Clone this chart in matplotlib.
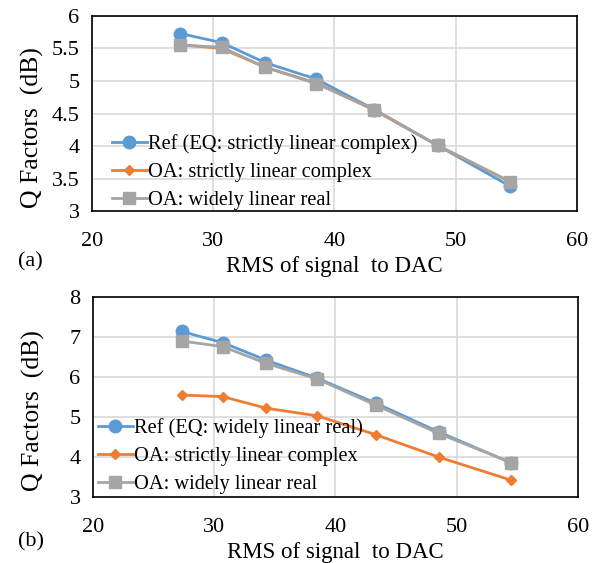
import numpy as np
import matplotlib.pyplot as plt

# data
rms = [27.3, 30.7, 34.3, 38.5, 43.3, 48.5, 54.5]

ref_a = [5.73, 5.59, 5.28, 5.03, 4.56, 4.01, 3.38]
oa_strict_a = [5.56, 5.50, 5.21, 4.97, 4.55, 4.01, 3.45]
oa_wide_a = [5.55, 5.52, 5.21, 4.96, 4.56, 4.01, 3.45]

ref_b = [7.14, 6.86, 6.42, 5.97, 5.35, 4.63, 3.85]
oa_strict_b = [5.55, 5.51, 5.22, 5.03, 4.56, 4.00, 3.42]
oa_wide_b = [6.90, 6.76, 6.34, 5.95, 5.30, 4.59, 3.86]

labels_a = ["Ref (EQ: strictly linear complex)", "OA: strictly linear complex", "OA: widely linear real"]
labels_b = ["Ref (EQ: widely linear real)", "OA: strictly linear complex", "OA: widely linear real"]

yticks_a = [3, 3.5, 4, 4.5, 5, 5.5, 6]
yticks_b = [3, 4, 5, 6, 7, 8]
xticks = [20, 30, 40, 50, 60]

blue, orange, gray = "#5B9BD5", "#ED7D31", "#A5A5A5"

plt.rcParams.update({
    "font.family": "Liberation Serif",
    "font.size": 16,
})

fig = plt.figure(figsize=(6.0, 5.63), dpi=100)
ax_a = fig.add_axes([0.1533, 0.6252, 0.8083, 0.3464])
ax_b = fig.add_axes([0.155, 0.1172, 0.8083, 0.3552])


def draw(ax, ref, strict, wide, labels, ylim, yticks, leg_anchor):
    ax.plot(rms, ref, color=blue, marker="o", markersize=9, lw=2, label=labels[0], zorder=3)
    ax.plot(rms, strict, color=orange, marker="D", markersize=5.5, lw=2, label=labels[1], zorder=4)
    ax.plot(rms, wide, color=gray, marker="s", markersize=8.5, lw=2, label=labels[2], zorder=5)
    ax.set_xlim(20, 60)
    ax.set_ylim(*ylim)
    ax.set_xticks(xticks)
    ax.set_yticks(yticks)
    ax.set_yticklabels([f"{v:g}" for v in yticks])
    ax.grid(True, color="#D9D9D9", lw=1.2)
    ax.set_axisbelow(True)
    for sp in ax.spines.values():
        sp.set_linewidth(1.2)
    ax.tick_params(axis="x", length=0, pad=15, labelsize=16)
    ax.tick_params(axis="y", length=0, pad=9, labelsize=16)
    ax.set_xlabel("RMS of signal  to DAC", fontsize=16.5, labelpad=4)
    ax.set_ylabel("Q Factors  (dB)", fontsize=18.5)
    ax.yaxis.set_label_coords(-0.098, 0.43)
    ax.legend(loc="center left", bbox_to_anchor=leg_anchor, frameon=False,
              fontsize=14.7, handlelength=1.7, handletextpad=0.05,
              labelspacing=0.42, borderpad=0, borderaxespad=0)


draw(ax_a, ref_a, oa_strict_a, oa_wide_a, labels_a, (3, 6), yticks_a, (0.041, 0.20))
draw(ax_b, ref_b, oa_strict_b, oa_wide_b, labels_b, (3, 8), yticks_b, (0.010, 0.205))

fig.text(18 / 600, 1 - 262 / 563, "(a)", fontsize=16, ha="left", va="center")
fig.text(18 / 600, 1 - 542 / 563, "(b)", fontsize=16, ha="left", va="center")

fig.savefig("out.png", dpi=100)
